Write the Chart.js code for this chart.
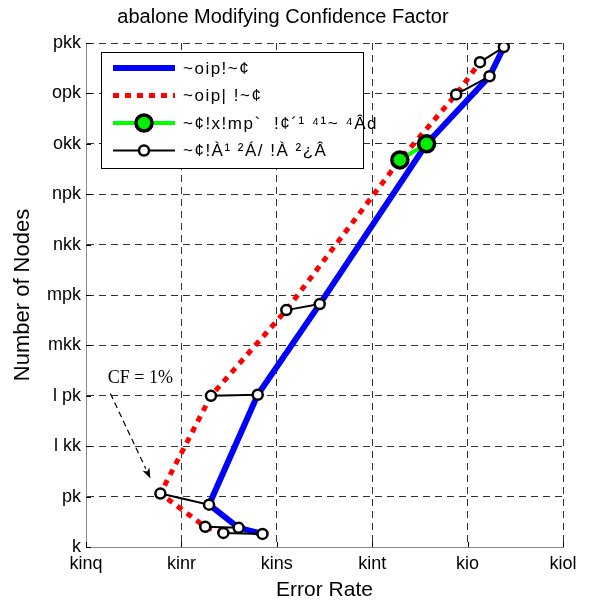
<!DOCTYPE html>
<html>
<head>
<meta charset="utf-8">
<script src="https://cdn.jsdelivr.net/npm/chart.js@4.4.0/dist/chart.umd.min.js"></script>
<style>
html, body { margin: 0; padding: 0; background: #fff; }
</style>
</head>
<body>
<canvas id="grafico" width="607" height="605"></canvas>
<script>
// rótulos dos eixos (como aparecem na figura)
const xTickLabels = ['kinq', 'kinr', 'kins', 'kint', 'kio', 'kiol'];
const yTickLabels = ['k', 'pk', 'l kk', 'l pk', 'mkk', 'mpk', 'nkk', 'npk', 'okk', 'opk', 'pkk'];
const legendLabels = ['~oip!~¢', '~oip| !~¢', '~¢!x!mp`  !¢´¹ ⁴¹~ ⁴Âd', '~¢!À¹ ²Á/ !À ²¿Â'];

// série azul (linha contínua)
const blueErr = [0.3785, 0.3760, 0.3729, 0.3780, 0.3845, 0.3957, 0.4023, 0.4038];
const blueNodes = [13, 19, 42, 151, 241, 400, 467, 496];

// série vermelha (pontilhada)
const redErr = [0.3744, 0.3725, 0.3678, 0.3731, 0.3810, 0.3929, 0.3988, 0.4013];
const redNodes = [14, 20, 53, 150, 235, 384, 449, 481];

// par destacado em verde
const greenIdx = 5;

const datasets = [];

datasets.push({
    data: blueErr.map((x, i) => ({ x: x, y: blueNodes[i] })),
    showLine: true,
    borderColor: '#0000ff',
    borderWidth: 6,
    pointRadius: 0,
    order: 4
});

datasets.push({
    data: redErr.map((x, i) => ({ x: x, y: redNodes[i] })),
    showLine: true,
    borderColor: '#ff0000',
    borderWidth: 5,
    borderDash: [6, 6],
    borderCapStyle: 'butt',
    pointRadius: 0,
    order: 3
});

// segmentos pretos ligando os pontos correspondentes
redErr.forEach((x, i) => {
    if (i === greenIdx) return;
    datasets.push({
        data: [{ x: redErr[i], y: redNodes[i] }, { x: blueErr[i], y: blueNodes[i] }],
        showLine: true,
        borderColor: '#000',
        borderWidth: 2,
        pointRadius: 5,
        pointBackgroundColor: '#fff',
        pointBorderColor: '#000',
        pointBorderWidth: 2.5,
        order: 2
    });
});

datasets.push({
    data: [{ x: redErr[greenIdx], y: redNodes[greenIdx] }, { x: blueErr[greenIdx], y: blueNodes[greenIdx] }],
    showLine: true,
    borderColor: '#00ff00',
    borderWidth: 4,
    pointRadius: 8,
    pointBackgroundColor: '#00ee00',
    pointBorderColor: '#000',
    pointBorderWidth: 3.5,
    order: 1
});

// título, legenda, anotação e marcas internas
const extras = {
    id: 'extras',
    afterDraw(chart) {
        const ctx = chart.ctx;
        const area = chart.chartArea;
        const xs = chart.scales.x;
        const ys = chart.scales.y;
        ctx.save();

        // marcas internas
        ctx.strokeStyle = '#000';
        ctx.lineWidth = 1;
        ctx.setLineDash([]);
        xs.ticks.forEach(t => {
            const px = Math.round(xs.getPixelForValue(t.value)) + 0.5;
            ctx.beginPath();
            ctx.moveTo(px, area.bottom);
            ctx.lineTo(px, area.bottom - 5);
            ctx.stroke();
        });
        ys.ticks.forEach(t => {
            const py = Math.round(ys.getPixelForValue(t.value)) + 0.5;
            ctx.beginPath();
            ctx.moveTo(area.left, py);
            ctx.lineTo(area.left + 5, py);
            ctx.stroke();
        });

        // título
        ctx.fillStyle = '#000';
        ctx.font = '20px "Liberation Sans", Arial, sans-serif';
        ctx.textAlign = 'center';
        ctx.textBaseline = 'middle';
        ctx.fillText('abalone Modifying Confidence Factor', 283, 17);

        // legenda
        const lx = 101, ly = 52, lw = 262, lh = 116;
        ctx.fillStyle = '#fff';
        ctx.fillRect(lx, ly, lw, lh);
        ctx.strokeStyle = '#000';
        ctx.lineWidth = 1;
        ctx.strokeRect(lx + 0.5, ly + 0.5, lw, lh);

        const legendSets = [datasets[0], datasets[1], datasets[datasets.length - 1], datasets[2]];
        legendSets.forEach((ds, i) => {
            const cy = 68 + i * 27.5;
            ctx.beginPath();
            ctx.strokeStyle = ds.borderColor;
            ctx.lineWidth = ds.borderWidth;
            ctx.lineCap = 'butt';
            ctx.setLineDash(ds.borderDash || []);
            ctx.moveTo(113, cy);
            ctx.lineTo(175, cy);
            ctx.stroke();
            ctx.setLineDash([]);
            if (ds.pointRadius > 0) {
                ctx.beginPath();
                ctx.arc(144, cy, ds.pointRadius, 0, Math.PI * 2);
                ctx.fillStyle = ds.pointBackgroundColor;
                ctx.fill();
                ctx.lineWidth = ds.pointBorderWidth;
                ctx.strokeStyle = ds.pointBorderColor;
                ctx.stroke();
            }
            ctx.fillStyle = '#000';
            ctx.font = '17px "Liberation Sans", Arial, sans-serif';
            ctx.letterSpacing = '1.5px';
            ctx.textAlign = 'left';
            ctx.textBaseline = 'middle';
            ctx.fillText(legendLabels[i], 183, cy + 1);
            ctx.letterSpacing = '0px';
        });

        // anotação CF = 1%
        const px = xs.getPixelForValue(redErr[2]);
        const py = ys.getPixelForValue(redNodes[2]);
        const tipX = px - 10, tipY = py - 15;
        const startX = px - 50, startY = py - 100;
        ctx.font = '18px "Liberation Serif", "Times New Roman", serif';
        ctx.textAlign = 'center';
        ctx.fillText('CF = 1%', px - 20, py - 115);
        const ang = Math.atan2(tipY - startY, tipX - startX);
        const headLen = 11;
        ctx.beginPath();
        ctx.strokeStyle = '#000';
        ctx.lineWidth = 1.2;
        ctx.setLineDash([6, 4]);
        ctx.moveTo(startX, startY);
        ctx.lineTo(tipX - headLen * Math.cos(ang), tipY - headLen * Math.sin(ang));
        ctx.stroke();
        ctx.setLineDash([]);
        ctx.beginPath();
        ctx.moveTo(tipX, tipY);
        ctx.lineTo(tipX - headLen * Math.cos(ang - 0.35), tipY - headLen * Math.sin(ang - 0.35));
        ctx.lineTo(tipX - headLen * 0.7 * Math.cos(ang), tipY - headLen * 0.7 * Math.sin(ang));
        ctx.lineTo(tipX - headLen * Math.cos(ang + 0.35), tipY - headLen * Math.sin(ang + 0.35));
        ctx.closePath();
        ctx.fillStyle = '#000';
        ctx.fill();

        ctx.restore();
    }
};

const gridStyle = {
    color: '#333',
    lineWidth: 1,
    drawTicks: false
};

new Chart(document.getElementById('grafico').getContext('2d'), {
    type: 'scatter',
    data: { datasets: datasets },
    options: {
        responsive: false,
        animation: false,
        layout: { padding: { top: 43, right: 44, left: 0, bottom: 0 } },
        elements: { line: { tension: 0 } },
        plugins: {
            legend: { display: false },
            tooltip: { enabled: false }
        },
        scales: {
            x: {
                type: 'linear',
                min: 0.36,
                max: 0.41,
                afterFit: s => { s.height = 58; },
                grid: gridStyle,
                border: { display: true, color: '#888', dash: [7, 5] },
                ticks: {
                    stepSize: 0.01,
                    padding: 6,
                    color: '#000',
                    font: { family: '"Liberation Sans", Arial, sans-serif', size: 18 },
                    maxRotation: 0,
                    callback: v => xTickLabels[Math.round((v - 0.36) / 0.01)]
                },
                title: {
                    display: true,
                    text: 'Error Rate',
                    color: '#000',
                    font: { family: '"Liberation Sans", Arial, sans-serif', size: 21 },
                    padding: { top: 0, bottom: 2 }
                }
            },
            y: {
                type: 'linear',
                min: 0,
                max: 500,
                afterFit: s => { s.width = 86; },
                grid: gridStyle,
                border: { display: true, color: '#888', dash: [7, 5] },
                ticks: {
                    stepSize: 50,
                    padding: 5,
                    color: '#000',
                    font: { family: '"Liberation Sans", Arial, sans-serif', size: 18 },
                    callback: v => yTickLabels[Math.round(v / 50)]
                },
                title: {
                    display: true,
                    text: 'Number of Nodes',
                    color: '#000',
                    font: { family: '"Liberation Sans", Arial, sans-serif', size: 22 },
                    padding: { top: 10, bottom: 0 }
                }
            }
        }
    },
    plugins: [extras]
});
</script>
</body>
</html>
